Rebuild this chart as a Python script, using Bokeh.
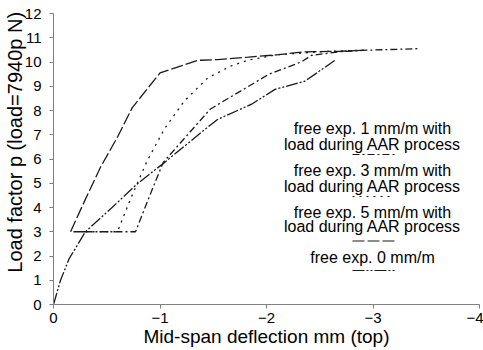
import math
from bokeh.plotting import figure
from bokeh.models import Range1d, FixedTicker, Label
from bokeh.embed import file_html
from bokeh.resources import INLINE

# ---- data ----
# free expansion 0 mm/m (no load during AAR)
x_free0 = [0, -0.066, -0.146, -0.30, -0.55, -0.78, -1.04, -1.43, -1.54, -1.86, -2.08, -2.36, -2.64]
y_free0 = [0, 1.0, 1.88, 3.0, 4.0, 4.95, 5.85, 7.25, 7.63, 8.26, 8.87, 9.21, 10.06]

# free expansion 1 mm/m with load during AAR process
x_free1 = [-0.30, -0.77, -0.91, -1.03, -1.47, -1.575, -1.76, -2.02, -2.33, -2.42, -2.68, -2.90, -3.43]
y_free1 = [3.0, 3.0, 4.56, 5.86, 8.05, 8.33, 8.81, 9.49, 10.01, 10.27, 10.42, 10.48, 10.55]

# free expansion 3 mm/m with load during AAR process
x_free3 = [-0.30, -0.60, -0.73, -0.88, -1.04, -1.23, -1.45, -1.67, -1.83, -2.10, -2.50, -2.95]
y_free3 = [3.0, 3.0, 4.42, 5.93, 7.23, 8.40, 9.35, 9.84, 10.08, 10.30, 10.42, 10.50]

# free expansion 5 mm/m with load during AAR process
x_free5 = [-0.30, -0.16, -0.285, -0.44, -0.60, -0.74, -1.00, -1.36, -1.54, -1.83, -2.11, -2.36, -2.68, -2.90]
y_free5 = [3.0, 3.0, 4.2, 5.65, 6.9, 8.12, 9.55, 10.07, 10.10, 10.20, 10.30, 10.42, 10.44, 10.48]

x_ticks = [0, -1, -2, -3, -4]
y_ticks = list(range(0, 13))

legend_lines = [
    ["free exp. 1 mm/m with", "load during AAR process"],
    ["free exp. 3 mm/m with", "load during AAR process"],
    ["free exp. 5 mm/m with", "load during AAR process"],
    ["free exp. 0 mm/m"],
]

FONT = "Liberation Sans"
LC = "#1a1a1a"
AX = "#808080"

p = figure(width=483, height=350,
           x_range=Range1d(0, -4), y_range=Range1d(0, 12),
           output_backend="svg", toolbar_location=None,
           min_border_left=53, min_border_right=4,
           min_border_top=13, min_border_bottom=46)
p.outline_line_color = None
p.xgrid.visible = False
p.ygrid.visible = False
p.background_fill_color = "white"
p.border_fill_color = "white"

for ax in (p.xaxis[0], p.yaxis[0]):
    ax.axis_line_color = AX
    ax.axis_line_width = 1
    ax.major_tick_line_color = AX
    ax.major_tick_in = 0
    ax.major_tick_out = 4
    ax.minor_tick_line_color = None
    ax.major_label_text_font = FONT
    ax.major_label_text_font_size = "15px"
    ax.major_label_text_color = "black"
    ax.axis_label_text_font = FONT
    ax.axis_label_text_font_style = "normal"
    ax.axis_label_text_color = "black"
    ax.axis_label_standoff = 0
p.xaxis[0].ticker = FixedTicker(ticks=x_ticks)
p.yaxis[0].ticker = FixedTicker(ticks=y_ticks)
p.xaxis[0].major_label_standoff = 4
p.yaxis[0].major_label_standoff = 8
p.yaxis[0].axis_label_standoff = -4
p.xaxis[0].axis_label = "Mid-span deflection mm (top)"
p.xaxis[0].axis_label_text_font_size = "19px"
p.yaxis[0].axis_label = "\u2007\u2007\u2007Load factor p (load=7940p N)"
p.yaxis[0].axis_label_text_font_size = "20px"

styles = {
    "free1": "7 3 2 3",
    "free3": "2 5",
    "free5": "12 3",
    "free0": "12 2 2 2 2 2",
}

p.line(x_free0, y_free0, line_color=LC, line_width=1.3, line_dash=styles["free0"])
p.line(x_free1, y_free1, line_color=LC, line_width=1.3, line_dash=styles["free1"])
p.line(x_free3, y_free3, line_color=LC, line_width=1.3, line_dash=styles["free3"])
p.line(x_free5, y_free5, line_color=LC, line_width=1.3, line_dash=styles["free5"])

# pixel helpers for legend placement (frame: 106.5 px / unit in x, 24.25 px / unit in y)
def dx(px):
    return -(px - 53) / 106.5

def dy(py):
    return (304 - py) / 24.25

# legend (centered text blocks with line samples beneath)
text_rows = [[128, 144], [170, 185.5], [211.5, 226], [256.5]]
sample_rows = [154, 196, 240.5, 270]
order = ["free1", "free3", "free5", "free0"]
cx = dx(372)
for lines, rows, srow, key in zip(legend_lines, text_rows, sample_rows, order):
    for t, r in zip(lines, rows):
        p.add_layout(Label(x=cx, y=dy(r), text=t, text_font=FONT,
                           text_font_size="16px", text_color="black",
                           text_align="center", text_baseline="middle"))
    p.line([dx(352), dx(394)], [dy(srow), dy(srow)], line_color=LC,
           line_width=1.2, line_dash=styles[key])

open("out.html", "w").write(file_html(p, INLINE))
